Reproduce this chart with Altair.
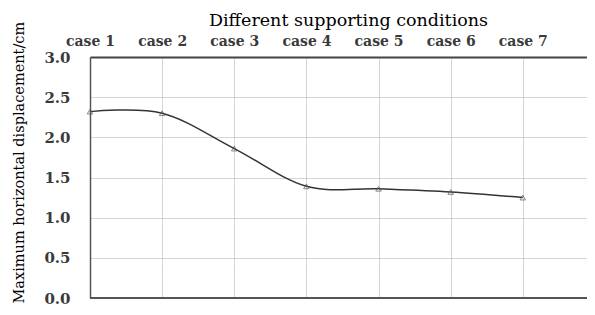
import json
import altair as alt
import pandas as pd

case_labels = ["case 1", "case 2", "case 3", "case 4", "case 5", "case 6", "case 7"]
case_index = [1, 2, 3, 4, 5, 6, 7]
max_disp = [2.32, 2.30, 1.86, 1.39, 1.36, 1.32, 1.25]
y_ticks = [0.0, 0.5, 1.0, 1.5, 2.0, 2.5, 3.0]

df = pd.DataFrame({"case": case_index, "label": case_labels, "disp": max_disp})

label_expr = json.dumps(case_labels) + "[datum.value - 1] || ''"

x = alt.X(
    "case:Q",
    scale=alt.Scale(domain=[1, 7.89], nice=False, zero=False),
    axis=alt.Axis(
        orient="top",
        values=case_index,
        labelExpr=label_expr,
        labelOverlap=False,
        labelBound=False,
        labelFlush=False,
        title="Different supporting conditions",
        titleFont="DejaVu Serif",
        titleFontSize=17.5,
        titleFontWeight="normal",
        titleColor="#000000",
        titleX=258,
        titleAnchor="middle",
        titlePadding=5,
        labelFont="DejaVu Serif",
        labelFontSize=14,
        labelFontWeight="bold",
        labelColor="#3a3a3a",
        labelPadding=9,
        ticks=False,
        domain=True,
        domainColor="#444444",
        domainWidth=2,
        grid=True,
        gridColor="#aaaaaa",
        gridDash=[1, 1],
        gridWidth=1,
    ),
)

y = alt.Y(
    "disp:Q",
    scale=alt.Scale(domain=[0, 3], nice=False),
    axis=alt.Axis(
        values=y_ticks,
        format=".1f",
        title="Maximum horizontal displacement/cm",
        titleFont="DejaVu Serif",
        titleFontSize=14.5,
        titleFontWeight="normal",
        titleColor="#000000",
        titleAngle=270,
        titleAlign="left",
        titleBaseline="alphabetic",
        titleX=-67,
        titleY=246,
        labelFont="DejaVu Serif",
        labelFontSize=15,
        labelFontWeight="bold",
        labelColor="#3a3a3a",
        labelPadding=20,
        ticks=False,
        domain=True,
        domainColor="#555555",
        domainWidth=1.5,
        grid=True,
        gridColor="#aaaaaa",
        gridDash=[1, 1],
        gridWidth=1,
    ),
)

base = alt.Chart(df)

line = base.mark_line(
    interpolate="cardinal", color="#333333", strokeWidth=1.5
).encode(x=x, y=y)

points = base.mark_point(
    shape="triangle-up", filled=False, color="#555555", size=30, strokeWidth=1
).encode(x=x, y=y)

bottom = alt.Chart(pd.DataFrame({"disp": [0.0]})).mark_rule(
    color="#555555", strokeWidth=2
).encode(y=y)

chart = (
    alt.layer(line, points, bottom)
    .properties(
        width=497,
        height=241,
        autosize=alt.AutoSizeParams(type="none"),
        padding={"left": 82, "top": 49, "right": 0, "bottom": 9},
    )
    .configure_view(strokeWidth=0)
    .configure(background="white")
)

chart.save("out.html", embed_options={"renderer": "svg", "actions": False})
